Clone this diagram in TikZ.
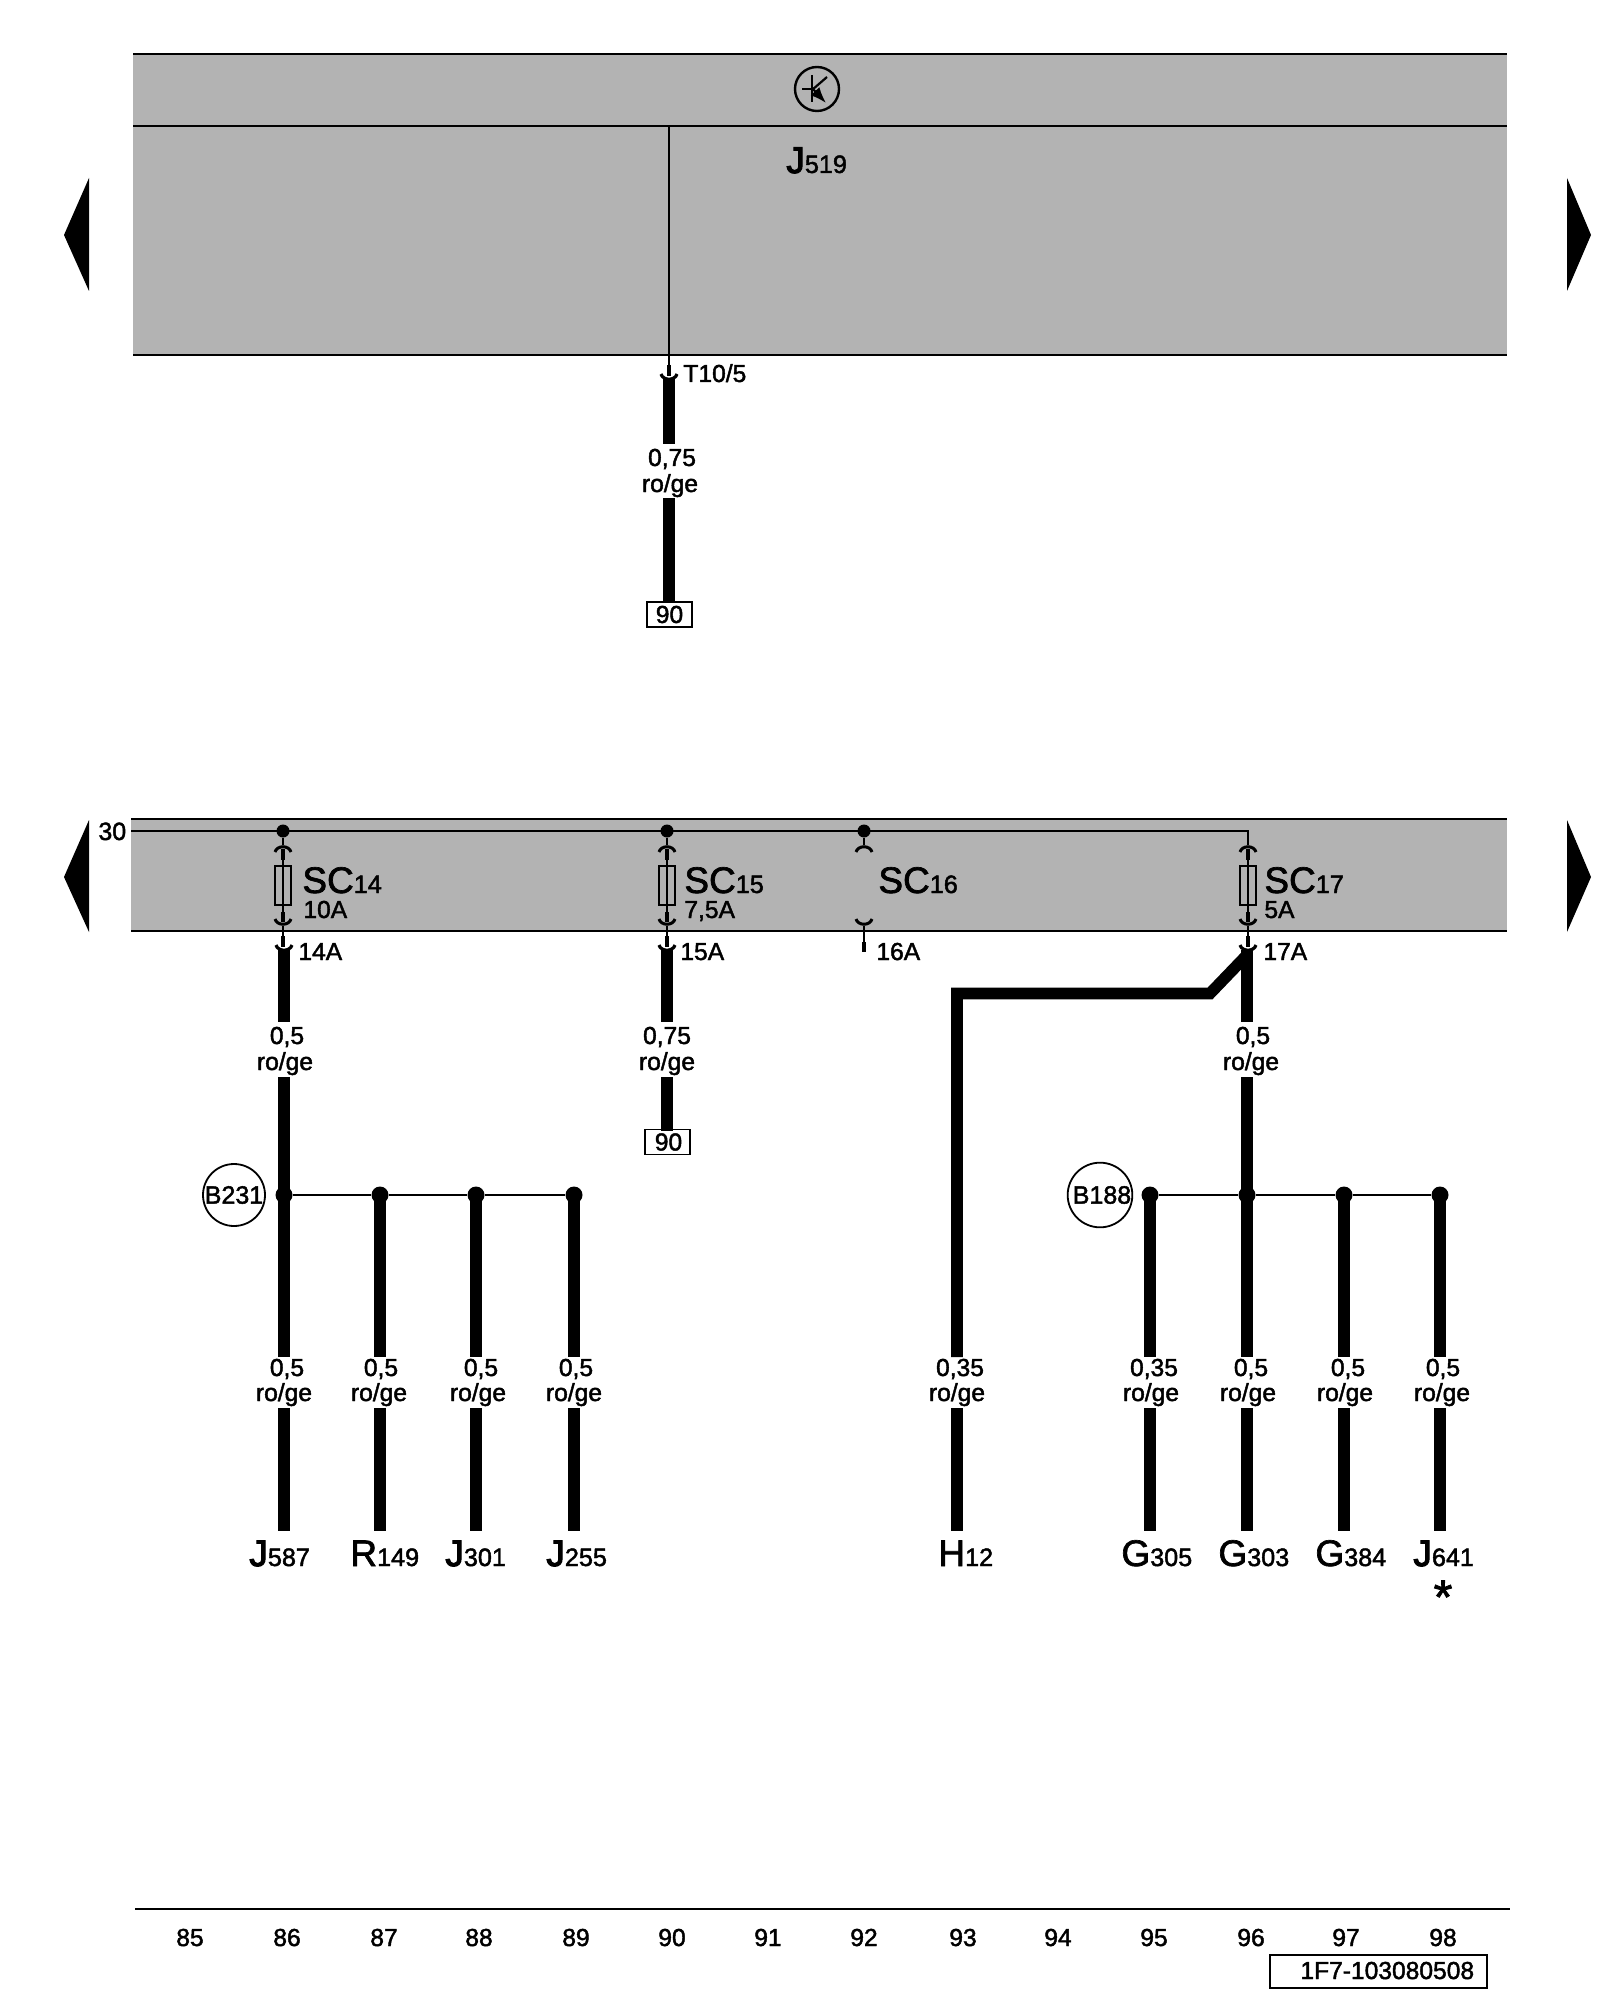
\documentclass[tikz,border=0pt]{standalone}
\usepackage{fontspec}
\setmainfont{Liberation Sans}
\newfontfamily\semi[FakeBold=1.8]{Liberation Sans}
\newfontfamily\bld[FakeBold=3]{Liberation Sans}
\usetikzlibrary{arrows.meta}
\tikzset{
  thinline/.style={line width=1.3pt,black},
  wire/.style={line width=5.8pt,black,line cap=butt},
  stub/.style={line width=2.4pt,black,line cap=butt},
  pinline/.style={line width=1.1pt,black},
  jdot/.style={circle,fill=black,inner sep=0pt,minimum size=8.5pt},
  bdot/.style={circle,fill=black,inner sep=0pt,minimum size=6.5pt},
  lab/.style={inner sep=0pt,anchor=base,font=\semi\fontsize{12.3}{12.3}\selectfont},
  labw/.style={inner sep=0pt,anchor=base west,font=\semi\fontsize{12.3}{12.3}\selectfont},
  big/.style={inner sep=0pt,anchor=base west,font=\semi\fontsize{18.5}{18.5}\selectfont},
  arrowtri/.style={fill=black,draw=none},
  fusebox/.style={draw=black,line width=1.1pt,fill=none},
  balloon/.style={circle,draw=black,line width=0.9pt,fill=white,minimum size=31pt,inner sep=0pt,font=\semi\fontsize{12.5}{12.5}\selectfont},
  refbox/.style={draw=black,line width=0.9pt,inner sep=0pt,font=\semi\fontsize{12.3}{12.3}\selectfont},
}
\definecolor{panel}{HTML}{B3B3B3}
% name, x, ytop, ybottom
\newcommand{\WIRE}[4]{\coordinate (#1t) at (#2,#3);\coordinate (#1b) at (#2,#4);\draw[wire] (#1t) -- (#1b);}
% upper socket: opening down at y=#2
\newcommand{\SOCKD}[3]{\coordinate (#3) at (#1,#2);\draw[line width=1.5pt] ([shift={(-8,7)}]#3) .. controls ([shift={(-6,0)}]#3) and ([shift={(6,0)}]#3) .. ([shift={(8,7)}]#3);}
% lower socket: opening up with bottom at y=#2
\newcommand{\SOCKU}[3]{\coordinate (#3) at (#1,#2);\draw[line width=1.5pt] ([shift={(-8,-7)}]#3) .. controls ([shift={(-6,0)}]#3) and ([shift={(6,0)}]#3) .. ([shift={(8,-7)}]#3);}
% bottom-of-pin fork on a thick wire
\newcommand{\FORK}[3]{\coordinate (#3) at (#1,#2);\draw[line width=1.6pt] ([shift={(-8,-6)}]#3) .. controls ([shift={(-6,1)}]#3) and ([shift={(6,1)}]#3) .. ([shift={(8,-6)}]#3);}
% fuse assembly at x=#1, name #2
\newcommand{\FUSE}[2]{%
  \SOCKD{#1}{845}{#2u}
  \coordinate (#2a) at (#1,849);\coordinate (#2c) at (#1,860);\coordinate (#2d) at (#1,866);\coordinate (#2e) at (#1,905);
  \coordinate (#2f) at (#1,912);\coordinate (#2g) at (#1,922);\coordinate (#2h) at (#1,926);
  \coordinate (#2l) at (#1-8,866);\coordinate (#2r) at (#1+8,905);
  \draw[stub] (#2a) -- (#2c);
  \draw[pinline] (#2c) -- (#2f);
  \draw[fusebox] (#2l) rectangle (#2r);
  \draw[stub] (#2f) -- (#2g);
  \SOCKU{#1}{926}{#2v}
  \coordinate (#2i) at (#1,936);\coordinate (#2j) at (#1,947);
  \draw[pinline] (#2h) -- (#2i);
  \draw[stub] (#2i) -- (#2j);
}
\begin{document}
\begin{tikzpicture}[x=0.5pt,y=-0.5pt]
\useasboundingbox (0,0) rectangle (1600,2000);
\fill[white] (0,0) rectangle (1600,2000);
% ===== top panel =====
\fill[panel] (133,54) rectangle (1507,355);
\coordinate (p1l) at (133,54);\coordinate (p1r) at (1507,54);
\coordinate (p2l) at (133,126);\coordinate (p2r) at (1507,126);
\coordinate (p3l) at (133,355);\coordinate (p3r) at (1507,355);
\draw[thinline] (p1l) -- (p1r);
\draw[thinline] (p2l) -- (p2r);
\draw[thinline] (p3l) -- (p3r);
% transistor
\coordinate (tc) at (817,89);
\draw[line width=1.2pt] (tc) circle (22);
\draw[line width=1.1pt] (812,75) -- (812,102);
\draw[line width=1.1pt] (802,89) -- (812,89);
\draw[line width=1.1pt] (812,90) -- (827,77);
\draw[line width=1.1pt,-{Latex[length=8pt,width=6pt]}] (812,88) -- (826,103);
\node[big] (nj519) at (786,173) {\bld J\semi\fontsize{12.6}{12.6}\selectfont 519};
% top connector
\coordinate (t0) at (669,126);\coordinate (t1) at (669,365);\coordinate (t2) at (669,376);
\draw[line width=1.2pt] (t0) -- (t1);
\draw[stub] (t1) -- (t2);
\WIRE{w0a}{669}{378}{444}
\WIRE{w0b}{669}{498}{602}
\FORK{669}{380}{t3}
\node[labw] (t105) at (683,382) {T10/5};
\node[lab] (w0s) at (672,466) {0,75};
\node[lab] (w0c) at (670,492) {ro/ge};
\node[refbox,minimum width=22.5pt,minimum height=12.5pt] (box90a) at (669.5,614.5) {90};
% arrows
\fill[arrowtri] (89,178) -- (89,291) -- (64,235) -- cycle;
\fill[arrowtri] (1567,178) -- (1567,291) -- (1591,235) -- cycle;
\fill[arrowtri] (89,820) -- (89,932) -- (64,877) -- cycle;
\fill[arrowtri] (1567,820) -- (1567,932) -- (1591,877) -- cycle;
% ===== lower panel =====
\fill[panel] (131,819) rectangle (1507,931);
\coordinate (q1l) at (131,819);\coordinate (q1r) at (1507,819);
\coordinate (q3l) at (131,931);\coordinate (q3r) at (1507,931);
\coordinate (bus0) at (131,831);\coordinate (bus1) at (1248,831);\coordinate (bus2) at (1248,845);
\draw[thinline] (q1l) -- (q1r);
\draw[thinline] (q3l) -- (q3r);
\draw[line width=1.2pt] (bus0) -- (bus1) -- (bus2);
\node[inner sep=0pt,anchor=base west,font=\semi\fontsize{12.5}{12.5}\selectfont] (n30) at (98,840) {30};
% bus dots
\node[bdot] (d14) at (283,831) {};
\node[bdot] (d15) at (667,831) {};
\node[bdot] (d16) at (864,831) {};
\draw[pinline] (d14) -- (283,845);
\draw[pinline] (d15) -- (667,845);
\draw[pinline] (d16) -- (864,845);
% fuses
\FUSE{283}{fa}
\FUSE{667}{fb}
\FUSE{1248}{fd}
% SC16 open socket
\SOCKD{864}{845}{fcu}
\SOCKU{864}{926}{fcv}
\coordinate (fc1) at (864,942);\coordinate (fc2) at (864,952);
\draw[pinline] (fcv) -- (fc1);
\draw[stub] (fc1) -- (fc2);
% SC labels
\node[big] (sc14) at (302,893) {SC\fontsize{12.6}{12.6}\selectfont 14};
\node[big] (sc15) at (684,893) {SC\fontsize{12.6}{12.6}\selectfont 15};
\node[big] (sc16) at (878,893) {SC\fontsize{12.6}{12.6}\selectfont 16};
\node[big] (sc17) at (1264,893) {SC\fontsize{12.6}{12.6}\selectfont 17};
\node[labw] (a10) at (303,918) {10A};
\node[labw] (a75) at (684,918) {7,5A};
\node[labw] (a5) at (1264,918) {5A};
\node[labw] (a14) at (298,960) {14A};
\node[labw] (a15) at (680,960) {15A};
\node[labw] (a16) at (876,960) {16A};
\node[labw] (a17) at (1263,960) {17A};
% ===== wires =====
\WIRE{w14a}{284}{950}{1022}
\WIRE{w14b}{284}{1077}{1357}
\WIRE{w14c}{284}{1408}{1531}
\FORK{284}{951}{k14}
\WIRE{w15a}{667}{950}{1022}
\WIRE{w15b}{667}{1077}{1131}
\FORK{667}{951}{k15}
\WIRE{w17a}{1247}{950}{1022}
\WIRE{w17b}{1247}{1077}{1357}
\WIRE{w17c}{1247}{1408}{1531}
\FORK{1248}{951}{k17}
\coordinate (h0) at (1247,955);\coordinate (h1) at (1210,993.5);\coordinate (h2) at (957,993.5);\coordinate (h3) at (957,1357);
\draw[wire,line join=miter] (h0) -- (h1) -- (h2) -- (h3);
\WIRE{wh}{957}{1408}{1531}
\foreach \n/\x in {r/380,s/476,u/574,g/1150,i/1344,k/1440}{
  \WIRE{w\n a}{\x}{1195}{1357}
  \WIRE{w\n b}{\x}{1408}{1531}
}
% junctions
\node[jdot] (ja) at (284,1195) {};
\node[jdot] (jb) at (380,1195) {};
\node[jdot] (jc) at (476,1195) {};
\node[jdot] (jd) at (574,1195) {};
\node[jdot] (je) at (1150,1195) {};
\node[jdot] (jf) at (1247,1195) {};
\node[jdot] (jg) at (1344,1195) {};
\node[jdot] (jh) at (1440,1195) {};
\draw[line width=1.2pt] (ja) -- (jb) -- (jc) -- (jd);
\draw[line width=1.2pt] (je) -- (jf) -- (jg) -- (jh);
\node[balloon] (b231) at (234,1195) {B231};
\node[balloon] (b188) at (1100,1195) {\hspace{2pt}B188};
% wire labels upper
\node[lab] (s14) at (287,1044) {0,5};
\node[lab] (c14) at (285,1070) {ro/ge};
\node[lab] (s15) at (667,1044) {0,75};
\node[lab] (c15) at (667,1070) {ro/ge};
\node[lab] (s17) at (1253,1044) {0,5};
\node[lab] (c17) at (1251,1070) {ro/ge};
\node[refbox,minimum width=22.5pt,minimum height=12.5pt] (box90b) at (667.5,1142) {\hspace{1pt}90};
% wire labels lower
\foreach \nm/\xa/\xb/\v in {la/287/284/0{,}5,lb/381/379/0{,}5,lc/481/478/0{,}5,ld/576/574/0{,}5,le/960/957/0{,}35,lf/1154/1151/0{,}35,lg/1251/1248/0{,}5,lh/1348/1345/0{,}5,li/1443/1442/0{,}5}{
  \node[lab] (\nm s) at (\xa,1376) {\v};
  \node[lab] (\nm c) at (\xb,1401) {ro/ge};
}
% component names
\foreach \nm/\x/\L/\N in {ca/249/J/587,cc/445/J/301,cd/546/J/255,ci/1413/J/641}{
  \node[big] (\nm) at (\x,1566) {\bld\L\semi\fontsize{12.6}{12.6}\selectfont \N};
}
\foreach \nm/\x/\L/\N in {cb/350/R/149,ce/938/H/12,cf/1121/G/305,cg/1218/G/303,ch/1315/G/384}{
  \node[big] (\nm) at (\x,1566) {\L\fontsize{12.6}{12.6}\selectfont \N};
}
\node[inner sep=0pt,font=\semi\fontsize{24}{24}\selectfont] (star) at (1443,1597) {*};
% ===== footer =====
\coordinate (f0) at (135,1909);\coordinate (f1) at (1510,1909);
\draw[thinline] (f0) -- (f1);
\foreach \n/\x in {85/190,86/287,87/384,88/479,89/576,90/672,91/768,92/864,93/963,94/1058,95/1154,96/1251,97/1346,98/1443}{
  \node[lab] (col\n) at (\x,1946) {\n};
}
\draw[line width=1.1pt] (1270,1955) rectangle (1487,1988);
\node[labw] (docid) at (1300,1979) {1F7-103080508};
\end{tikzpicture}
\end{document}
